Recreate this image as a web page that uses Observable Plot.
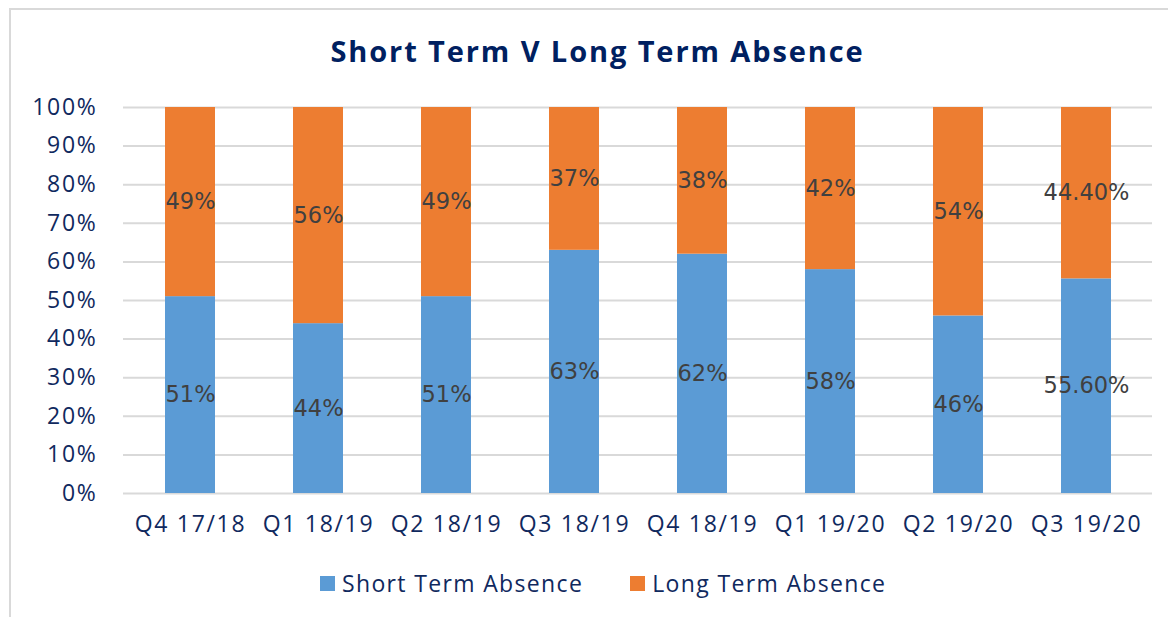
<!DOCTYPE html>
<html>
<head>
<meta charset="utf-8">
<script src="https://cdn.jsdelivr.net/npm/d3@7"></script>
<script src="https://cdn.jsdelivr.net/npm/@observablehq/plot@0.6"></script>
<style>
  body { margin: 0; background: #fff; }
  #wrap { position: relative; width: 1168px; height: 617px; overflow: hidden; font-family: "Open Sans", sans-serif; }
  #frame { position: absolute; left: 9px; top: 8px; right: -10px; bottom: -10px; border-left: 2px solid #d9d9d9; border-top: 2px solid #d9d9d9; pointer-events: none; }
  #title { box-sizing: border-box; width: 1168px; height: 85px; padding: 31px 0 14px 27px; line-height: 40px; text-align: center; font-size: 29px; font-weight: 700; letter-spacing: 1.9px; color: #002060; }
  #chart { position: relative; height: 460px; }
  #chart svg g[aria-label$="tick label"] { letter-spacing: 1.7px; }
  #legend { position: relative; display: flex; align-items: center; padding: 26px 0 0 320px; line-height: 24px; font-size: 23px; letter-spacing: 1.35px; color: #10295E; }
  #legend .sw { display: inline-block; width: 15px; height: 15px; margin-right: 7px; }
</style>
</head>
<body>
<div id="wrap">
  <div id="frame"></div>
  <div id="title">Short Term V Long Term Absence</div>
  <div id="chart"></div>
  <div id="legend"></div>
</div>
<script>
const quarters = ["Q4 17/18", "Q1 18/19", "Q2 18/19", "Q3 18/19", "Q4 18/19", "Q1 19/20", "Q2 19/20", "Q3 19/20"];
const seriesNames = ["Short Term Absence", "Long Term Absence"];
const seriesColors = ["#5B9BD5", "#ED7D31"];
const shortValues = [51, 44, 51, 63, 62, 58, 46, 55.6];
const longValues = [49, 56, 49, 37, 38, 42, 54, 44.4];
const shortLabels = ["51%", "44%", "51%", "63%", "62%", "58%", "46%", "55.60%"];
const longLabels = ["49%", "56%", "49%", "37%", "38%", "42%", "54%", "44.40%"];
const yTicks = [0, 10, 20, 30, 40, 50, 60, 70, 80, 90, 100];

const rows = [];
quarters.forEach((q, i) => {
  rows.push({quarter: q, series: seriesNames[0], value: shortValues[i], label: shortLabels[i]});
  rows.push({quarter: q, series: seriesNames[1], value: longValues[i], label: longLabels[i]});
});

const chart = Plot.plot({
  width: 1168,
  height: 460,
  marginTop: 22,
  marginBottom: 52,
  marginLeft: 123,
  marginRight: 16,
  style: {fontFamily: "'Open Sans', sans-serif", fontSize: "23px", color: "#10295E", background: "transparent", overflow: "visible"},
  x: {domain: quarters, paddingInner: 0.61, paddingOuter: 0.295, label: null, tickSize: 0, tickPadding: 22},
  y: {domain: [0, 100], ticks: yTicks, tickFormat: d => d + "%", label: null, tickSize: 0, tickPadding: 26},
  color: {domain: seriesNames, range: seriesColors},
  marks: [
    Plot.gridY(yTicks, {stroke: "#d9d9d9", strokeOpacity: 1, strokeWidth: 2}),
    Plot.barY(rows, {x: "quarter", y: "value", fill: "series"}),
    Plot.text(rows, Plot.stackY({x: "quarter", y: "value", z: "series", text: "label", fill: "#404040", fontFamily: "DejaVu Sans", fontSize: 22.5}))
  ]
});
document.getElementById("chart").appendChild(chart);

const legend = document.getElementById("legend");
seriesNames.forEach((name, i) => {
  const sw = document.createElement("span");
  sw.className = "sw";
  sw.style.background = seriesColors[i];
  if (i > 0) sw.style.marginLeft = "47px";
  const t = document.createElement("span");
  t.textContent = name;
  legend.appendChild(sw);
  legend.appendChild(t);
});
</script>
</body>
</html>
